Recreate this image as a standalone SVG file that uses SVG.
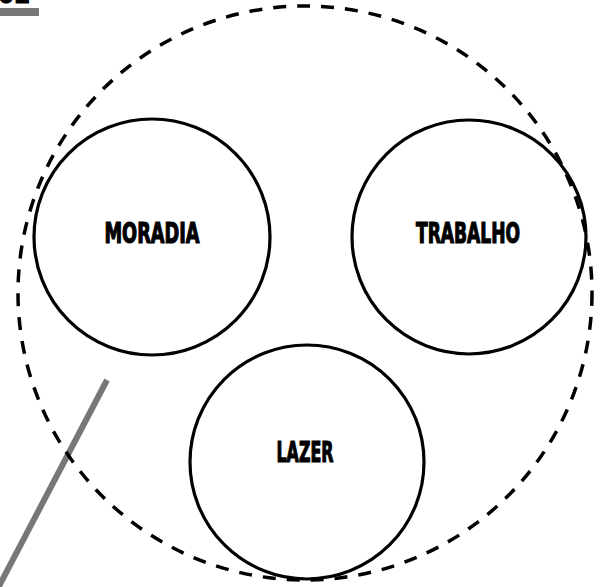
<svg xmlns="http://www.w3.org/2000/svg" width="605" height="587" viewBox="0 0 605 587">
<style>
.node{fill:none;stroke:#000;stroke-width:3.2}
.lbl{font-family:"DejaVu Sans Condensed","DejaVu Sans",sans-serif;font-weight:bold;font-size:28px;fill:#000;stroke:#000;stroke-width:1.2;text-anchor:middle}
</style>
<rect width="605" height="587" fill="#fff"/>
<g id="header">
<text x="-2" y="3" font-family="DejaVu Sans Condensed, sans-serif" font-weight="bold" font-size="26" fill="#000" stroke="#000" stroke-width="1">02</text>
<rect x="0" y="8" width="39" height="8" fill="#777"/>
</g>
<g id="connectors">
<line x1="107" y1="380" x2="-3" y2="590" stroke="#777" stroke-width="6"/>
</g>
<g id="boundary">
<circle cx="305" cy="293" r="287" fill="none" stroke="#000" stroke-width="3.5" stroke-dasharray="13 11"/>
</g>
<g id="moradia">
<circle class="node" cx="152" cy="237" r="118"/>
<text class="lbl" x="152" y="243" textLength="95" lengthAdjust="spacingAndGlyphs">MORADIA</text>
</g>
<g id="trabalho">
<circle class="node" cx="469" cy="237" r="117"/>
<text class="lbl" x="468" y="243" textLength="104" lengthAdjust="spacingAndGlyphs">TRABALHO</text>
</g>
<g id="lazer">
<circle class="node" cx="307" cy="462" r="117"/>
<text class="lbl" x="305" y="462" textLength="57" lengthAdjust="spacingAndGlyphs">LAZER</text>
</g>
</svg>
